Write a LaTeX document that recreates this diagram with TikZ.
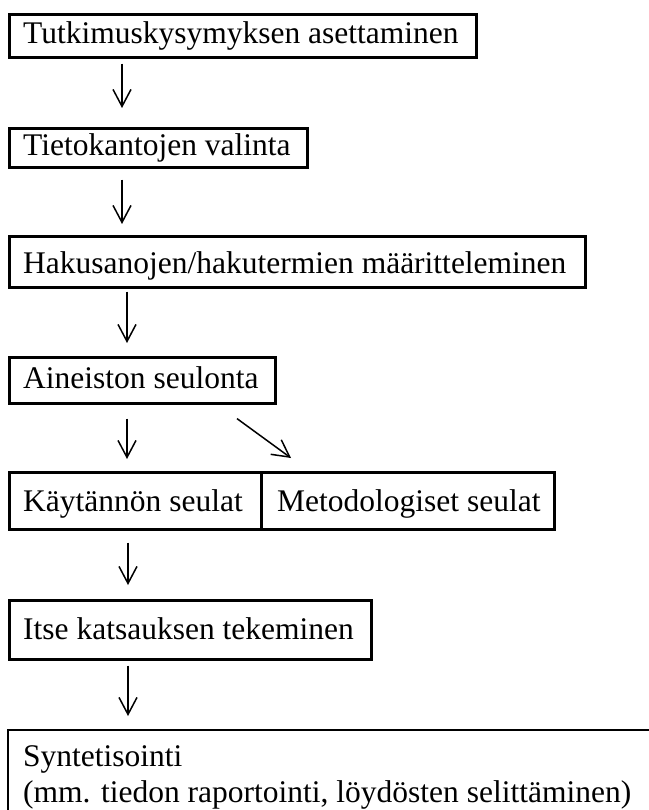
\documentclass[tikz,border=0pt]{standalone}
\usepackage{fontspec}
\setmainfont{Liberation Serif}
\usetikzlibrary{arrows.meta}
\begin{document}
\begin{tikzpicture}[x=1pt,y=1pt,
  boxn/.style={draw=black, line width=2.6pt, inner sep=0pt, anchor=north west},
  txt/.style={anchor=base west, inner sep=0pt, font=\fontsize{31.5}{37.5}\selectfont},
  arr/.style={line width=1.5pt, -{Straight Barb[length=17pt,width=18pt]}}]
\useasboundingbox (0,0) rectangle (648,-810);
% boxes
\node[boxn, minimum width=467pt, minimum height=43pt] (b1) at (8,-13) {};
\node[boxn, minimum width=298pt, minimum height=39pt] (b2) at (8,-127) {};
\node[boxn, minimum width=576pt, minimum height=51pt] (b3) at (8,-235) {};
\node[boxn, minimum width=266pt, minimum height=46pt] (b4) at (8,-356) {};
\node[boxn, minimum width=252pt, minimum height=57pt] (b5a) at (8,-471) {};
\node[boxn, minimum width=293pt, minimum height=57pt] (b5b) at (260,-471) {};
\node[boxn, minimum width=362pt, minimum height=59pt] (b6) at (8,-599) {};
\coordinate (b7) at (8,-730);
\draw[line width=2.6pt] ([yshift=-90pt]b7) -- (b7) -- ([xshift=660pt]b7);
% texts
\node[txt] (t1) at (23,-44) {Tutkimuskysymyksen asettaminen};
\node[txt] (t2) at (23,-156) {Tietokantojen valinta};
\node[txt] (t3) at (23,-273) {Hakusanojen/hakutermien määritteleminen};
\node[txt] (t4) at (23,-388) {Aineiston seulonta};
\node[txt] (t5a) at (23,-511) {Käytännön seulat};
\node[txt] (t5b) at (277,-511) {Metodologiset seulat};
\node[txt] (t6) at (23,-639) {Itse katsauksen tekeminen};
\node[txt] (t7a) at (23,-766) {Syntetisointi};
\node[txt] (t7b) at (23,-802) {(mm. tiedon raportointi, löydösten selittäminen)};
% arrows
\draw[arr] ([shift={(114,-5)}]b1.south west) -- ([shift={(114,19)}]b2.north west);
\draw[arr] ([shift={(114,-11)}]b2.south west) -- ([shift={(114,11)}]b3.north west);
\draw[arr] ([shift={(119,-3)}]b3.south west) -- ([shift={(119,13)}]b4.north west);
\draw[arr] ([shift={(119,-14)}]b4.south west) -- ([shift={(119,12)}]b5a.north west);
\draw[arr] ([shift={(229,-14)}]b4.south west) -- ([shift={(31,13)}]b5b.north west);
\draw[arr] ([shift={(120,-12)}]b5a.south west) -- ([shift={(120,14)}]b6.north west);
\draw[arr] ([shift={(120,-5)}]b6.south west) -- ([shift={(120,14)}]b7);
\end{tikzpicture}
\end{document}
